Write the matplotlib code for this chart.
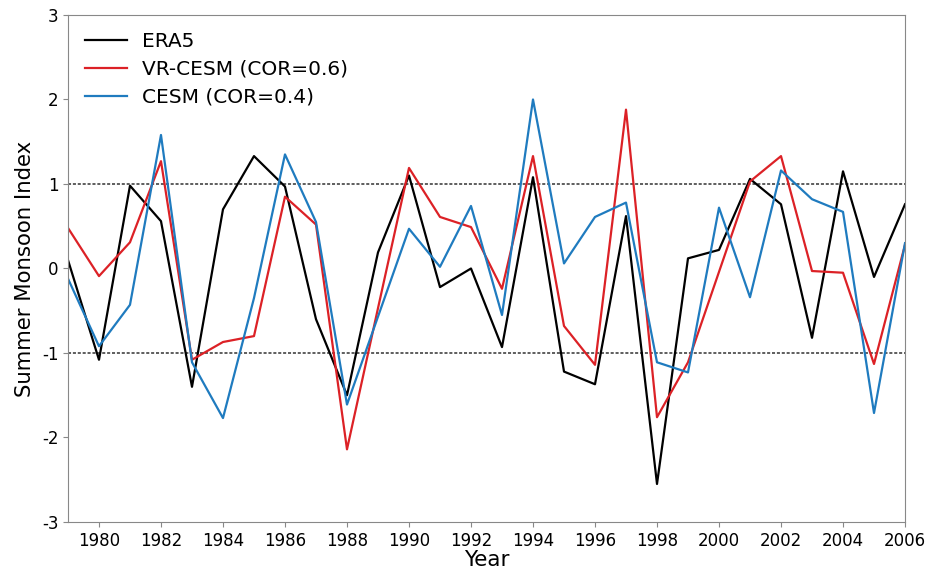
import matplotlib
matplotlib.use("Agg")
import matplotlib.pyplot as plt
import numpy as np

years = list(range(1979, 2007))
era5 = [0.10, -1.08, 0.98, 0.56, -1.40, 0.70, 1.33, 0.97, -0.60, -1.50,
        0.19, 1.10, -0.22, 0.00, -0.93, 1.08, -1.22, -1.37, 0.62, -2.55,
        0.12, 0.22, 1.06, 0.76, -0.82, 1.15, -0.10, 0.76]
vrcesm = [0.48, -0.09, 0.31, 1.27, -1.08, -0.87, -0.80, 0.85, 0.52, -2.14,
          -0.47, 1.19, 0.61, 0.49, -0.24, 1.33, -0.68, -1.14, 1.88, -1.76,
          -1.11, -0.04, 1.03, 1.33, -0.03, -0.05, -1.13, 0.28]
cesm = [-0.12, -0.92, -0.43, 1.58, -1.11, -1.77, -0.35, 1.35, 0.55, -1.61,
        -0.57, 0.47, 0.02, 0.74, -0.55, 2.00, 0.06, 0.61, 0.78, -1.11,
        -1.23, 0.72, -0.34, 1.16, 0.82, 0.67, -1.71, 0.30]
xticks = list(range(1980, 2007, 2))
yticks = [-3, -2, -1, 0, 1, 2, 3]

plt.rcParams['axes.unicode_minus'] = False
fig = plt.figure(figsize=(9.39, 5.68), dpi=100)
ax = fig.add_axes([0.0724, 0.081, 0.8914, 0.8926])

ax.axhline(1, color='#333333', linestyle=(0, (2, 1.2)), linewidth=1.1, zorder=1)
ax.axhline(-1, color='#333333', linestyle=(0, (2, 1.2)), linewidth=1.1, zorder=1)
ax.plot(years, era5, color='black', linewidth=1.6, label='ERA5')
ax.plot(years, vrcesm, color='#dc2126', linewidth=1.6, label='VR-CESM (COR=0.6)')
ax.plot(years, cesm, color='#1f7bbf', linewidth=1.6, label='CESM (COR=0.4)')

ax.set_xlim(1979, 2006)
ax.set_ylim(-3, 3)
ax.set_xticks(xticks)
ax.set_yticks(yticks)
ax.tick_params(labelsize=12, color='#888888', length=3.5)
for s in ax.spines.values():
    s.set_color('#888888')
ax.set_xlabel('Year', fontsize=15.5, labelpad=0)
ax.set_ylabel('Summer Monsoon Index', fontsize=15.3, labelpad=5)
ax.legend(loc='upper left', frameon=False, fontsize=14.5, handlelength=2.1,
          handletextpad=0.75, borderaxespad=0.45, labelspacing=0.44)

fig.savefig('out.png', dpi=100)
